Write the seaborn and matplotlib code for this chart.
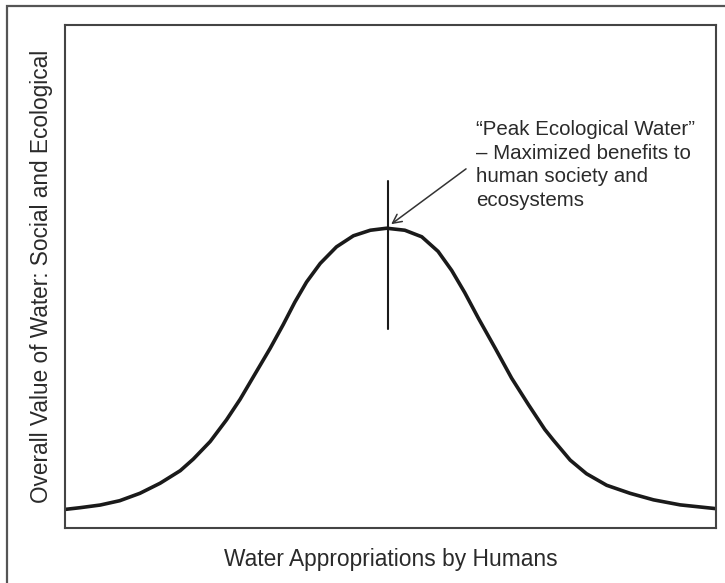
import numpy as np
import pandas as pd
import seaborn as sns
import matplotlib.pyplot as plt
from matplotlib.patches import Rectangle

# curve (x and y in 0-100 axis units)
appropriation = [0.0, 2.3, 5.4, 8.4, 11.5, 14.6, 17.7, 19.7, 22.3, 24.8,
                 26.9, 28.9, 31.5, 33.5, 35.3, 37.1, 39.2, 41.7, 44.3, 46.9,
                 49.4, 52.2, 54.8, 57.3, 59.4, 61.4, 63.5, 66.1, 68.6, 71.2,
                 73.7, 75.0, 77.6, 80.1, 83.2, 86.8, 90.4, 94.5, 100.0]
value = [3.7, 4.04, 4.57, 5.43, 6.9, 8.9, 11.4, 13.7, 17.2, 21.5,
         25.6, 30.0, 35.7, 40.4, 44.9, 48.9, 52.6, 55.9, 58.1, 59.2,
         59.6, 59.2, 57.9, 55.0, 51.2, 46.8, 41.7, 35.7, 29.8, 24.5,
         19.6, 17.5, 13.5, 10.8, 8.5, 6.9, 5.6, 4.6, 3.85]

peak_x = 49.6
peak_line = [39.5, 69.0]
arrow_start = (61.6, 71.4)
arrow_tip = (50.1, 60.4)

note = ("\u201cPeak Ecological Water\u201d\n"
        "\u2013 Maximized benefits to\n"
        "human society and\n"
        "ecosystems")
xlabel = "Water Appropriations by Humans"
ylabel = "Overall Value of Water: Social and Ecological"

sns.set_style("white")
plt.rcParams['font.family'] = ['Liberation Sans', 'DejaVu Sans']

df = pd.DataFrame({'x': appropriation, 'y': value})

fig = plt.figure(figsize=(7.25, 5.83), dpi=100)
ax = fig.add_axes([0.0897, 0.0943, 0.8979, 0.8628])

sns.lineplot(data=df, x='x', y='y', ax=ax, color='#1a1a1a', linewidth=2.6,
             sort=False, estimator=None, solid_joinstyle='round')
ax.plot([peak_x, peak_x], peak_line, color='#1a1a1a', linewidth=1.5)
ax.annotate('', xy=arrow_tip, xytext=arrow_start,
            arrowprops=dict(arrowstyle='->', color='#333333', lw=1.1,
                            mutation_scale=16, shrinkA=0, shrinkB=0))
ax.text(63.1, 81.1, note, ha='left', va='top', fontsize=14.8,
        color='#2a2a2a', linespacing=1.3)

ax.set_xlim(0, 100)
ax.set_ylim(0, 100)
ax.set_xticks([])
ax.set_yticks([])
for s in ax.spines.values():
    s.set_color('#444444')
    s.set_linewidth(1.5)

ax.set_xlabel(xlabel, fontsize=16.4, color='#2a2a2a')
ax.set_ylabel(ylabel, fontsize=16.3, color='#2a2a2a')
ax.xaxis.set_label_coords(0.5, -0.04)
ax.yaxis.set_label_coords(-0.018, 0.5)

# outer frame, open to the right and bottom like the cropped source
fig.patches.append(Rectangle((0.0097, -0.1), 1.2, 1.0904, transform=fig.transFigure,
                             fill=False, edgecolor='#555555', linewidth=1.6))

fig.savefig('out.png', dpi=100)
